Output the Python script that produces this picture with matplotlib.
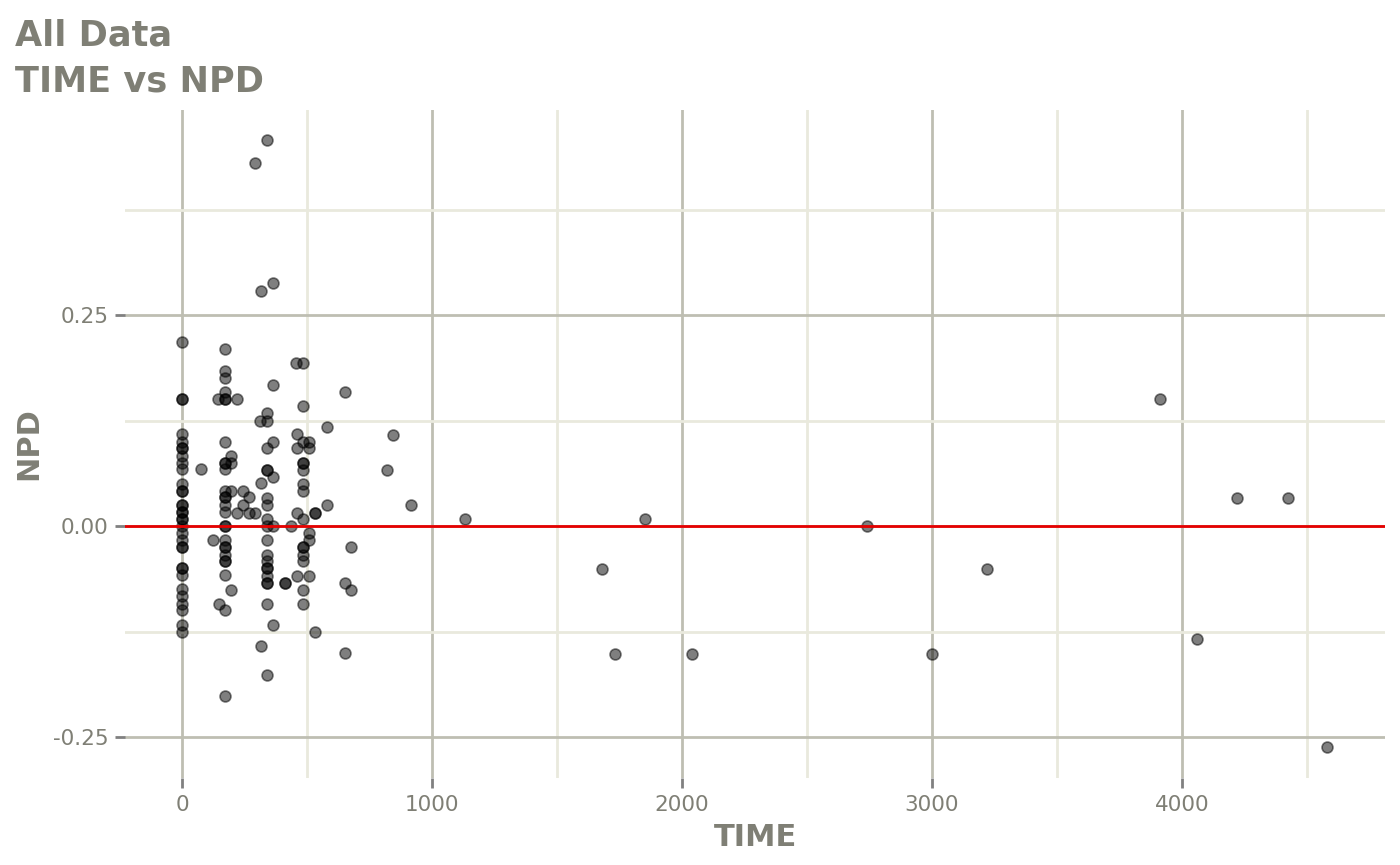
import matplotlib
matplotlib.use("Agg")
import matplotlib.pyplot as plt
from matplotlib.ticker import FixedLocator

# ---- data ----
time_vals = (
    [0] * 33
    + [171] * 26
    + [144, 219, 75, 123, 147, 195, 195, 195, 219, 243, 267, 243, 267, 291, 195]
    + [339, 291, 315, 363, 363, 456, 483, 652, 483, 339, 312, 339]
    + [339, 363, 339, 339, 363, 315, 339, 339, 339, 339, 363, 339, 339, 339,
       339, 339, 339, 339, 339, 339, 363, 315, 339, 411, 411, 435]
    + [459, 483, 507, 459, 507, 483, 483, 483, 483, 483, 459, 483, 531, 531,
       579, 507, 507, 483, 483, 483, 483, 459, 507, 483, 483, 531, 579]
    + [651, 651, 675, 675, 843, 819, 915]
    + [1132, 1680, 1732, 1852, 2040, 2740, 3000, 3220, 3912, 4060, 4220, 4424, 4580]
)
npd_vals = (
    [0.218, 0.150, 0.150, 0.109, 0.100, 0.092, 0.092, 0.083, 0.075, 0.067,
     0.050, 0.042, 0.042, 0.025, 0.025, 0.017, 0.017, 0.008, 0.008, 0.000,
     -0.008, -0.017, -0.025, -0.025, -0.050, -0.050, -0.058, -0.075, -0.083,
     -0.092, -0.100, -0.117, -0.125]
    + [0.210, 0.184, 0.176, 0.159, 0.150, 0.150, 0.100, 0.075, 0.075, 0.067,
       0.042, 0.034, 0.034, 0.025, 0.017, 0.000, 0.000, -0.017, -0.025, -0.025,
       -0.034, -0.042, -0.042, -0.058, -0.100, -0.201]
    + [0.150, 0.150, 0.067, -0.017, -0.092, 0.083, 0.075, 0.042, 0.016, 0.042,
       0.034, 0.025, 0.016, 0.016, -0.076]
    + [0.457, 0.430, 0.279, 0.2875, 0.167, 0.193, 0.193, 0.159, 0.142, 0.1335,
       0.125, 0.125]
    + [0.092, 0.100, 0.066, 0.066, 0.058, 0.0506, 0.0336, 0.025, 0.008, 0.000,
       0.000, -0.017, -0.034, -0.042, -0.050, -0.050, -0.059, -0.067, -0.067,
       -0.092, -0.117, -0.142, -0.177, -0.067, -0.067, 0.000]
    + [0.109, 0.100, 0.100, 0.092, 0.092, 0.075, 0.075, 0.066, 0.050, 0.042,
       0.016, 0.008, 0.016, 0.016, 0.025, -0.008, -0.017, -0.025, -0.025,
       -0.034, -0.042, -0.059, -0.059, -0.076, -0.092, -0.126, 0.117]
    + [-0.151, -0.067, -0.076, -0.025, 0.108, 0.066, 0.025]
    + [0.008, -0.051, -0.152, 0.008, -0.152, 0.000, -0.152, -0.051, 0.150,
       -0.134, 0.033, 0.033, -0.262]
)
x_ticks = [0, 1000, 2000, 3000, 4000]
x_tick_labels = ["0", "1000", "2000", "3000", "4000"]
y_ticks = [-0.25, 0.0, 0.25]
y_tick_labels = ["-0.25", "0.00", "0.25"]
title_lines = ["All Data", "TIME vs NPD"]

# ---- style ----
txt_col = "#7f7f75"
major_col = "#bebeb2"
minor_col = "#e9e9dd"

plt.rcParams["font.family"] = ["DejaVu Sans"]
fig = plt.figure(figsize=(14, 8.65), dpi=100)
ax = fig.add_axes([125 / 1400, 1 - 778 / 865, (1385 - 125) / 1400, (778 - 110) / 865])

ax.set_xlim(-228, 4812)
ax.set_ylim(-0.2986, 0.493)

ax.xaxis.set_major_locator(FixedLocator(x_ticks))
ax.xaxis.set_minor_locator(FixedLocator([500, 1500, 2500, 3500, 4500]))
ax.yaxis.set_major_locator(FixedLocator(y_ticks))
ax.yaxis.set_minor_locator(FixedLocator([-0.125, 0.125, 0.375]))
ax.set_xticklabels(x_tick_labels)
ax.set_yticklabels(y_tick_labels)

ax.grid(which="major", color=major_col, linewidth=2.0, zorder=0)
ax.grid(which="minor", color=minor_col, linewidth=2.0, zorder=0)
ax.set_axisbelow(True)
for s in ax.spines.values():
    s.set_visible(False)

ax.tick_params(which="major", length=7, width=2, color="#808080",
               labelcolor=txt_col, labelsize=15.5, pad=5)
ax.tick_params(which="minor", length=0)

ax.scatter(time_vals, npd_vals, s=62, facecolor=(0, 0, 0, 0.5),
           edgecolor=(0, 0, 0, 0.5), linewidth=1.2, zorder=2)
ax.axhline(0, color="#e60000", linewidth=2, zorder=3)

ax.set_xlabel("TIME", fontsize=22, fontweight="bold", color=txt_col, labelpad=6)
ax.set_ylabel("NPD", fontsize=22, fontweight="bold", color=txt_col, labelpad=7)

fig.text(15 / 1400, 1 - 45 / 865, title_lines[0], fontsize=25.3, fontweight="bold",
         color=txt_col, va="baseline", ha="left")
fig.text(15 / 1400, 1 - 92 / 865, title_lines[1], fontsize=25.3, fontweight="bold",
         color=txt_col, va="baseline", ha="left")

fig.savefig("out.png", dpi=100)
